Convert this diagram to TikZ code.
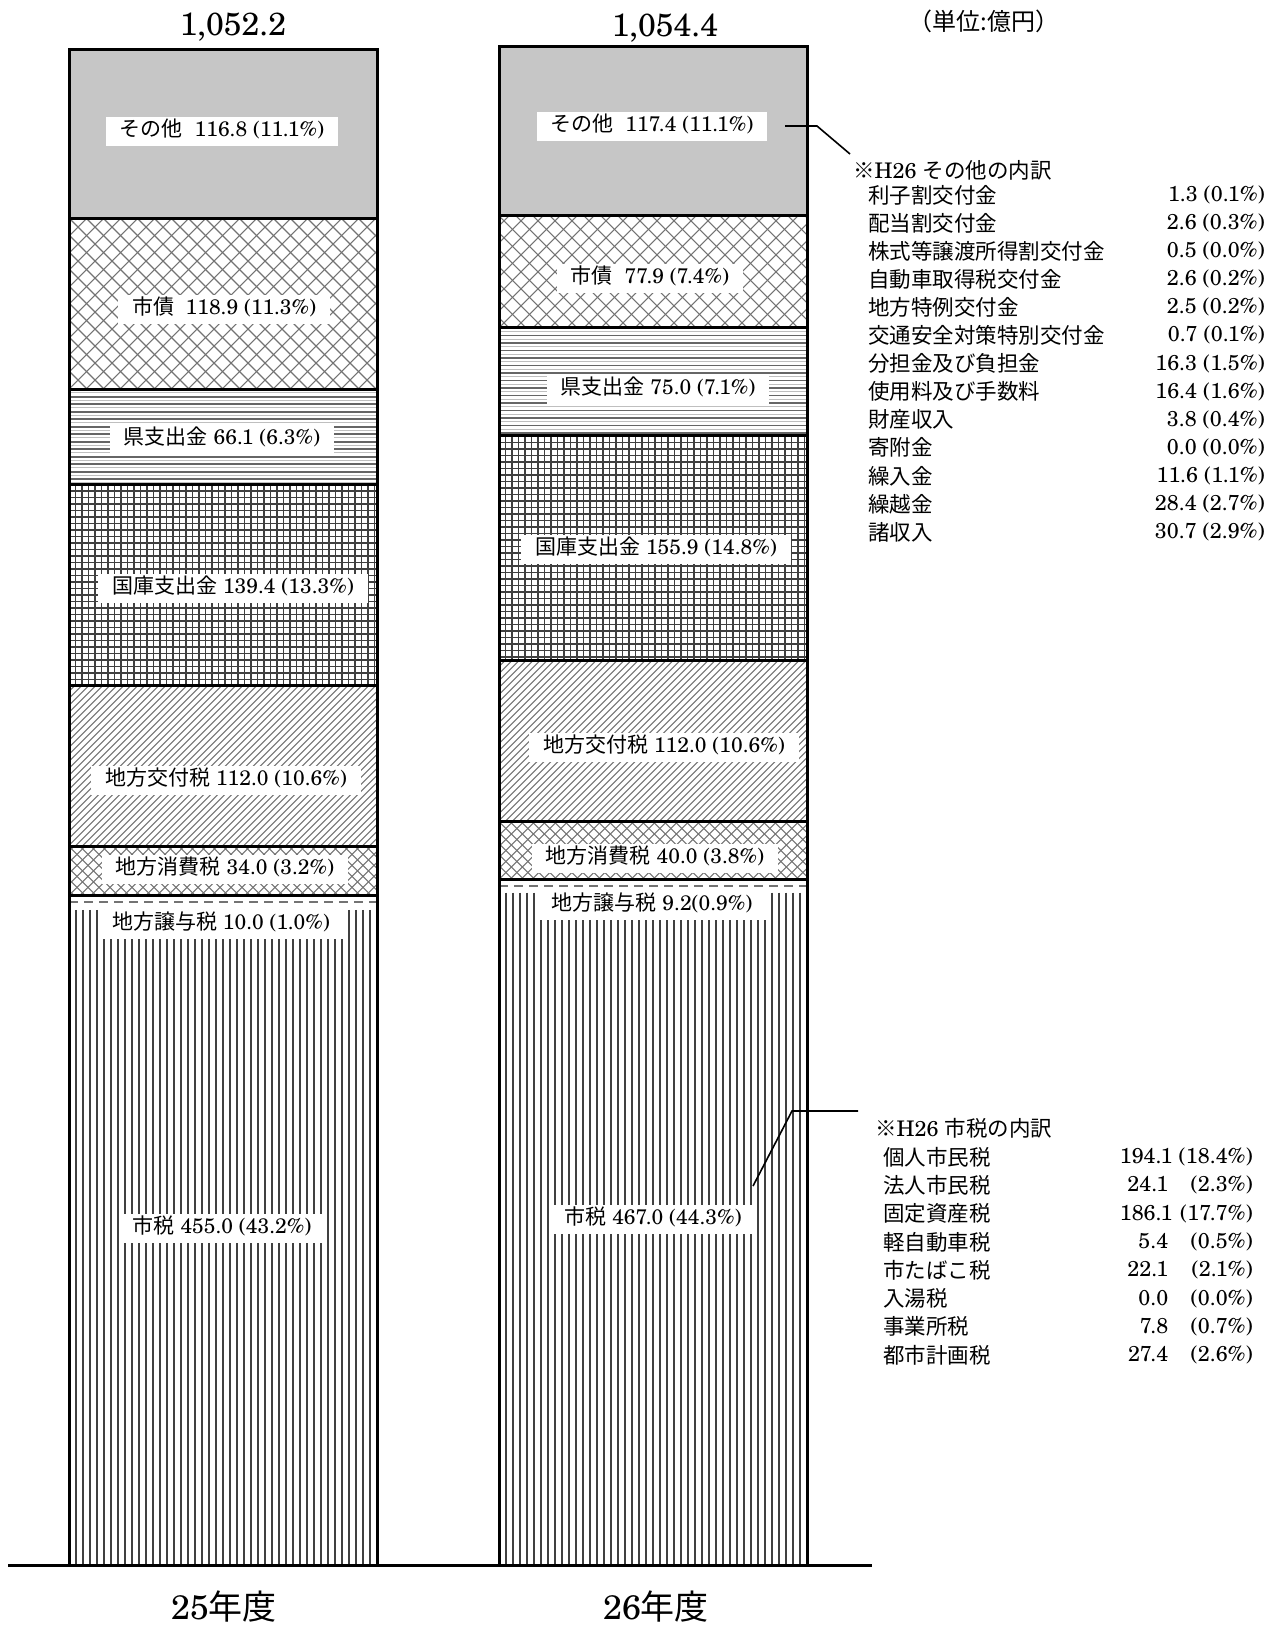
\documentclass[tikz,border=0pt]{standalone}
\usepackage{fontspec}
\setmainfont{texgyreschola-regular.otf}
\newfontfamily\cjk{Noto Sans CJK JP}
\newcommand{\J}[1]{{\cjk #1}}
\definecolor{othergray}{RGB}{198,198,198}
\tikzset{
 bord/.style={line width=3pt, line cap=rect},
 vl/.style={line width=1.8pt, black!75},
 hl/.style={line width=1.6pt, black!60},
 hltwo/.style={line width=1pt, black!25},
 gl/.style={line width=1.3pt, black!75},
 dl/.style={line width=1.1pt, black!55},
 xl/.style={line width=1.1pt, black!55},
 dashl/.style={line width=1.5pt, black!55, dash pattern=on 9pt off 6pt},
 lbl/.style={fill=white, inner xsep=14pt, inner ysep=5pt, text height=15pt, text depth=4pt, font=\fontsize{21}{24}\selectfont},
 lst/.style={inner sep=0pt, font=\fontsize{21.5}{24}\selectfont},
 conn/.style={line width=1.6pt},
}
\newcommand{\PatV}[4]{\begin{scope}\clip (#1,#2) rectangle (#3,#4);
 \foreach \q in {0,7,...,315}{\draw[vl] ({#1+\q},#2) -- ({#1+\q},#4);}\end{scope}}
\newcommand{\PatH}[4]{\begin{scope}\clip (#1,#2) rectangle (#3,#4);
 \foreach \q in {0,7.5,...,245}{\draw[hl] (#1,{#2+\q}) -- (#3,{#2+\q}); \draw[hltwo] (#1,{#2+\q+3.7}) -- (#3,{#2+\q+3.7});}\end{scope}}
\newcommand{\PatG}[4]{\begin{scope}\clip (#1,#2) rectangle (#3,#4);
 \foreach \q in {0,6.5,...,315}{\draw[gl] ({#1+\q},#2) -- ({#1+\q},#4);}
 \foreach \q in {0,6.5,...,240}{\draw[gl] (#1,{#2+\q}) -- (#3,{#2+\q});}\end{scope}}
\newcommand{\PatD}[4]{\begin{scope}\clip (#1,#2) rectangle (#3,#4);
 \foreach \q in {-260,-253,...,320}{\draw[dl] ({#1+\q},#4) -- ++(260,-260);}\end{scope}}
\newcommand{\PatX}[5]{\begin{scope}\clip (#1,#2) rectangle (#3,#4);
 \foreach \k in {-25,...,32}{\draw[xl] ({#1+\k*#5},#2) -- ++(260,260); \draw[xl] ({#1+\k*#5},#4) -- ++(260,-260);}\end{scope}}

\begin{document}
\begin{tikzpicture}[x=1pt,y=-1pt]
\useasboundingbox (0,0) rectangle (1282,1626);

% ---------- bar 1 (H25) ----------
\fill[othergray] (69,49.8) rectangle (377,218);
\PatX{69}{218}{377}{389.2}{17}
\PatH{69}{389.2}{377}{484.4}
\PatG{69}{484.4}{377}{685.1}
\PatD{69}{685.1}{377}{846.4}
\PatX{69}{846.4}{377}{895.4}{11}
\draw[dashl] (69,902) -- (377,902);
\PatV{69}{909.8}{377}{1565}
\foreach \yy in {218,389.2,484.4,685.1,846.4,895.4}{\draw[bord] (69,\yy) -- (377,\yy);}
\draw[bord] (69,49.8) rectangle (377,1565);

% ---------- bar 2 (H26) ----------
\fill[othergray] (499,46.7) rectangle (807,215.8);
\PatX{499}{215.8}{807}{327.9}{17}
\PatH{499}{327.9}{807}{435.9}
\PatG{499}{435.9}{807}{660.4}
\PatD{499}{660.4}{807}{821.7}
\PatX{499}{821.7}{807}{879.3}{11}
\draw[dashl] (499,886) -- (807,886);
\PatV{499}{892.6}{807}{1565}
\foreach \yy in {215.8,327.9,435.9,660.4,821.7,879.3}{\draw[bord] (499,\yy) -- (807,\yy);}
\draw[bord] (499,46.7) rectangle (807,1565);

% axis
\draw[line width=3pt] (8,1565) -- (872,1565);

% ---------- segment labels bar 1 ----------
\node[lbl] (a1) at (222,131) {\J{その他}\ \ 116.8 (11.1\%)};
\node[lbl] (a2) at (224,309) {\J{市債}\ \ 118.9 (11.3\%)};
\node[lbl] (a3) at (222,439) {\J{県支出金} 66.1 (6.3\%)};
\node[lbl] (a4) at (233,588) {\J{国庫支出金} 139.4 (13.3\%)};
\node[lbl] (a5) at (226,780) {\J{地方交付税} 112.0 (10.6\%)};
\node[lbl] (a6) at (225,869) {\J{地方消費税} 34.0 (3.2\%)};
\node[lbl] (a7) at (221,924) {\J{地方譲与税} 10.0 (1.0\%)};
\node[lbl] (a8) at (222,1228) {\J{市税} 455.0 (43.2\%)};

% ---------- segment labels bar 2 ----------
\node[lbl] (b1) at (652,126) {\J{その他}\ \ 117.4 (11.1\%)};
\node[lbl] (b2) at (650,278) {\J{市債}\ \ 77.9 (7.4\%)};
\node[lbl] (b3) at (658,389) {\J{県支出金} 75.0 (7.1\%)};
\node[lbl] (b4) at (656,549) {\J{国庫支出金} 155.9 (14.8\%)};
\node[lbl] (b5) at (664,747) {\J{地方交付税} 112.0 (10.6\%)};
\node[lbl] (b6) at (655,858) {\J{地方消費税} 40.0 (3.8\%)};
\node[lbl] (b7) at (652,905) {\J{地方譲与税} 9.2(0.9\%)};
\node[lbl] (b8) at (653,1219) {\J{市税} 467.0 (44.3\%)};

% ---------- totals, unit, years ----------
\node[font=\fontsize{32}{36}\selectfont] (t1) at (233,27) {1,052.2};
\node[font=\fontsize{32}{36}\selectfont] (t2) at (665,28) {1,054.4};
\node[font=\fontsize{24}{28}\selectfont] (unit) at (984,21) {\J{（単位:億円）}};
\node[font=\fontsize{34}{38}\selectfont] (y1) at (224,1607) {25\J{年度}};
\node[font=\fontsize{34}{38}\selectfont] (y2) at (656,1607) {26\J{年度}};

% ---------- breakdown of other ----------
\node[lst, anchor=west] (oh) at (853,170) {\J{※}H26 \J{その他の内訳}};
\foreach \nm/\val [count=\i from 0] in {利子割交付金/1.3 (0.1\%),配当割交付金/2.6 (0.3\%),株式等譲渡所得割交付金/0.5 (0.0\%),自動車取得税交付金/2.6 (0.2\%),地方特例交付金/2.5 (0.2\%),交通安全対策特別交付金/0.7 (0.1\%),分担金及び負担金/16.3 (1.5\%),使用料及び手数料/16.4 (1.6\%),財産収入/3.8 (0.4\%),寄附金/0.0 (0.0\%),繰入金/11.6 (1.1\%),繰越金/28.4 (2.7\%),諸収入/30.7 (2.9\%)}{
  \node[lst, anchor=west] (on\i) at (868,{195+\i*28.08}) {\J{\nm}};
  \node[lst, anchor=east] (ov\i) at (1265,{195+\i*28.08}) {\val};
}
\coordinate (oc1) at (785,126);
\coordinate (oc2) at (817,126);
\coordinate (oc3) at (850,154);
\draw[conn] (oc1) -- (oc2) -- (oc3);

% ---------- breakdown of city tax ----------
\node[lst, anchor=west] (sh) at (875,1128) {\J{※}H26 \J{市税の内訳}};
\foreach \nm/\num/\pct/\xe [count=\i from 0] in {個人市民税/194.1/18.4/0em,法人市民税/24.1/2.3/0.2em,固定資産税/186.1/17.7/0em,軽自動車税/5.4/0.5/0.2em,市たばこ税/22.1/2.1/0.2em,入湯税/0.0/0.0/0.2em,事業所税/7.8/0.7/0.2em,都市計画税/27.4/2.6/0.2em}{
  \node[lst, anchor=west] (sn\i) at (883,{1157+\i*28.3}) {\J{\nm}};
  \node[lst, anchor=east] (sv\i) at (1253,{1157+\i*28.3}) {\num\hspace{\xe}\ \makebox[3.45em][r]{(\pct\%)}};
}
\coordinate (sc1) at (753,1186);
\coordinate (sc2) at (792,1111);
\coordinate (sc3) at (858,1111);
\draw[conn] (sc1) -- (sc2) -- (sc3);
\end{tikzpicture}
\end{document}
